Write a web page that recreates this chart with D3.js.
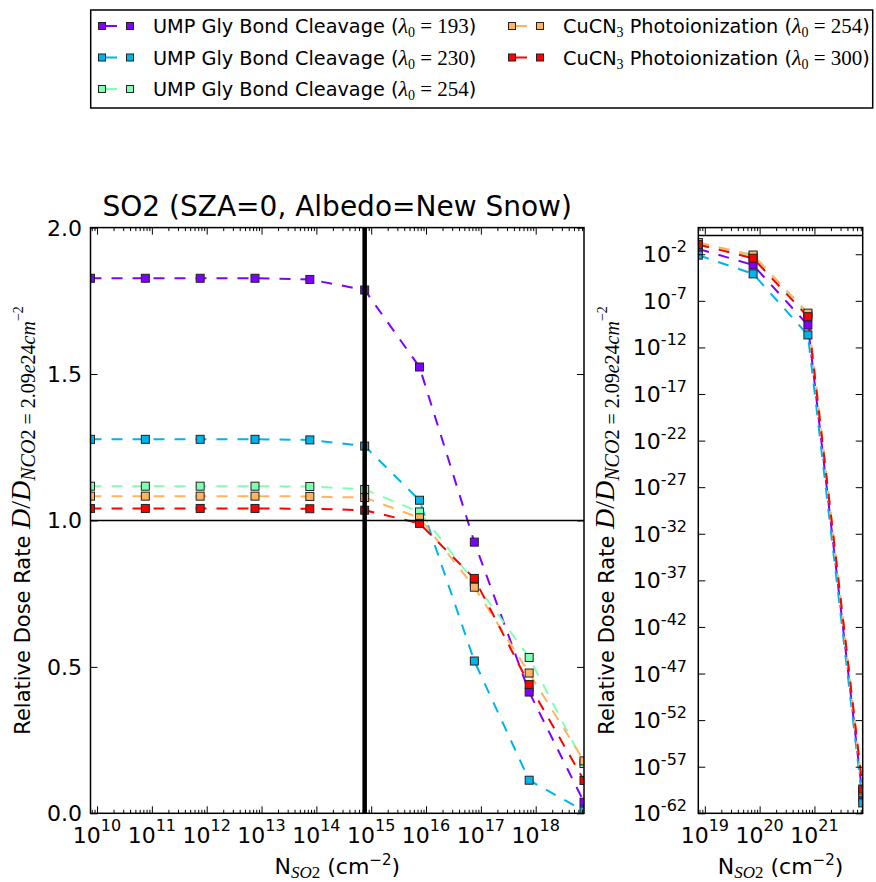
<!DOCTYPE html>
<html>
<head>
<meta charset="utf-8">
<title>SO2 relative dose rate</title>
<script src="https://d3js.org/d3.v7.min.js"></script>
<style>
  body { margin: 0; background: #fff; }
  text { font-family: "DejaVu Sans", sans-serif; fill: #000; white-space: pre; }
  .math { font-family: "Liberation Serif", "DejaVu Serif", serif; }
</style>
</head>
<body>
<div id="chart"></div>
<script>
// column densities of SO2 (cm^-2)
var nLeft = [7.6e9, 7.6e10, 7.6e11, 7.6e12, 7.6e13, 7.6e14, 7.6e15, 7.6e16, 7.6e17, 7.6e18]
var nRight = [7.6e18, 7.6e19, 7.6e20, 7.6e21]

// legend: kind of process and lambda_0
var kinds = ["UMP", "UMP", "UMP", "CuCN3", "CuCN3"]
var lambdas = ["193", "230", "254", "254", "300"]
var colors = ["#8000ff", "#00b4eb", "#80ffb4", "#ffb462", "#ff0000"]

// relative dose rates, left panel (linear)
var ump193 = [1.827, 1.827, 1.827, 1.827, 1.823, 1.787, 1.524, 0.926, 0.414, 0.038]
var ump230 = [1.277, 1.277, 1.277, 1.277, 1.275, 1.254, 1.069, 0.520, 0.113, 0.008]
var ump254 = [1.117, 1.117, 1.117, 1.117, 1.116, 1.106, 1.029, 0.790, 0.532, 0.170]
var cucn254 = [1.083, 1.083, 1.083, 1.083, 1.082, 1.078, 1.009, 0.772, 0.479, 0.179]
var cucn300 = [1.041, 1.041, 1.041, 1.041, 1.040, 1.035, 0.990, 0.802, 0.440, 0.112]

// relative dose rates, right panel (log)
var ump193Deep = [0.038, 7e-4, 2.5e-10, 5e-61]
var ump230Deep = [0.008, 7.8e-5, 2.2e-11, 1.3e-61]
var ump254Deep = [0.170, 6e-3, 3e-9, 1.6e-60]
var cucn254Deep = [0.179, 8.3e-3, 4.8e-9, 2.5e-60]
var cucn300Deep = [0.112, 3.7e-3, 2e-9, 4e-60]

// tick labels
var leftYTicks = [0, 0.5, 1.0, 1.5, 2.0]
var leftXExps = [10, 11, 12, 13, 14, 15, 16, 17, 18]
var rightXExps = [19, 20, 21]
var rightYExps = [-62, -57, -52, -47, -42, -37, -32, -27, -22, -17, -12, -7, -2]

var lin = [ump193, ump230, ump254, cucn254, cucn300]
var deep = [ump193Deep, ump230Deep, ump254Deep, cucn254Deep, cucn300Deep]
var series = colors.map(function (c, i) {
    return {color: c, lin: lin[i], deep: deep[i]}
})

var W = 876, H = 882
var svg = d3.select("#chart").append("svg")
    .attr("width", W).attr("height", H)

var plotTop = 227.6, plotBottom = 813.3

// scales
var xL = d3.scaleLog().domain([7.6e9, 7.6e18]).range([90.5, 584])
var yL = d3.scaleLinear().domain([0, 2]).range([plotBottom, plotTop])
var xR = d3.scaleLog().domain([7.6e18, 7.6e21]).range([698.3, 862.7])
var yR = d3.scaleLog().domain([1e-62, Math.pow(10, 0.86)]).range([plotBottom, plotTop])

var dash = "11,10"

function supText(sel, base, exp, size, expSize, rise) {
    sel.append("tspan").style("font-size", size + "px").text(base)
    sel.append("tspan").attr("dy", -rise).style("font-size", expSize + "px").text(exp)
}

// math-like runs: letters italic serif, rest upright serif
function mathRun(sel, str, size, dy) {
    var parts = str.match(/[A-Za-z]+|[^A-Za-z]+/g)
    parts.forEach(function (p, i) {
        var t = sel.append("tspan").attr("class", "math")
            .style("font-size", size + "px")
            .style("font-style", /[A-Za-z]/.test(p) ? "italic" : "normal")
            .text(p)
        if (i == 0 && dy) t.attr("dy", dy)
    })
}

function panel(id, x, y, vals, key) {
    var x0 = x.range()[0], x1 = x.range()[1]
    var g = svg.append("g")
    svg.append("clipPath").attr("id", id)
        .append("rect").attr("x", x0).attr("y", plotTop).attr("width", x1 - x0).attr("height", plotBottom - plotTop)

    var plot = g.append("g").attr("clip-path", "url(#" + id + ")")
    var line = d3.line()
        .x(function (d) { return x(d[0]) })
        .y(function (d) { return y(d[1]) })

    series.forEach(function (s) {
        var pts = vals.map(function (v, i) { return [v, s[key][i]] })
        plot.append("path")
            .attr("d", line(pts))
            .attr("fill", "none")
            .attr("stroke", s.color)
            .attr("stroke-width", 2)
            .attr("stroke-dasharray", dash)
    })
    series.forEach(function (s) {
        var pts = vals.map(function (v, i) { return [v, s[key][i]] })
        plot.selectAll(null).data(pts).enter().append("rect")
            .attr("x", function (d) { return x(d[0]) - 4 })
            .attr("y", function (d) { return y(d[1]) - 4 })
            .attr("width", 8).attr("height", 8)
            .attr("fill", s.color)
            .attr("stroke", "#222").attr("stroke-width", 1)
    })
    return {g: g, plot: plot, x0: x0, x1: x1}
}

function ticksX(p, x, majors) {
    var minors = x.ticks().filter(function (t) {
        var e = Math.log10(t); return Math.abs(e - Math.round(e)) > 1e-6
    })
    p.g.append("g").attr("transform", "translate(0," + plotBottom + ")")
        .call(d3.axisBottom(x).tickValues(majors).tickSize(-7).tickFormat(""))
    p.g.append("g").attr("transform", "translate(0," + plotBottom + ")")
        .call(d3.axisBottom(x).tickValues(minors).tickSize(-3.5).tickFormat(""))
    p.g.append("g").attr("transform", "translate(0," + plotTop + ")")
        .call(d3.axisTop(x).tickValues(majors).tickSize(-7).tickFormat(""))
    p.g.append("g").attr("transform", "translate(0," + plotTop + ")")
        .call(d3.axisTop(x).tickValues(minors).tickSize(-3.5).tickFormat(""))
}

function ticksY(p, y, vals) {
    p.g.append("g").attr("transform", "translate(" + p.x0 + ",0)")
        .call(d3.axisLeft(y).tickValues(vals).tickSize(-7).tickFormat(""))
    p.g.append("g").attr("transform", "translate(" + p.x1 + ",0)")
        .call(d3.axisRight(y).tickValues(vals).tickSize(-7).tickFormat(""))
}

function frame(p) {
    p.g.selectAll(".domain").remove()
    p.g.selectAll(".tick line").attr("stroke", "#000").attr("stroke-width", 1)
    p.g.append("rect").attr("x", p.x0).attr("y", plotTop)
        .attr("width", p.x1 - p.x0).attr("height", plotBottom - plotTop)
        .attr("fill", "none").attr("stroke", "#000").attr("stroke-width", 1.5)
}

// ---- left panel
var pL = panel("clipL", xL, yL, nLeft, "lin")
pL.plot.append("line")
    .attr("x1", xL(nLeft[5])).attr("x2", xL(nLeft[5]))
    .attr("y1", plotTop).attr("y2", plotBottom)
    .attr("stroke", "#000").attr("stroke-width", 4.5)
pL.plot.append("line")
    .attr("x1", pL.x0).attr("x2", pL.x1)
    .attr("y1", yL(1)).attr("y2", yL(1))
    .attr("stroke", "#000").attr("stroke-width", 1.5)
ticksX(pL, xL, leftXExps.map(function (e) { return Math.pow(10, e) }))
ticksY(pL, yL, leftYTicks)
frame(pL)

leftYTicks.forEach(function (v) {
    svg.append("text").attr("x", 82).attr("y", yL(v) + 8)
        .attr("text-anchor", "end").style("font-size", "22px")
        .text(d3.format(".1f")(v))
})
leftXExps.forEach(function (e) {
    var t = svg.append("text").attr("x", xL(Math.pow(10, e))).attr("y", 843)
        .attr("text-anchor", "middle")
    supText(t, "10", String(e), 22, 16, 12)
})

// ---- right panel
var pR = panel("clipR", xR, yR, nRight, "deep")
pR.plot.append("line")
    .attr("x1", pR.x0).attr("x2", pR.x1)
    .attr("y1", yR(1)).attr("y2", yR(1))
    .attr("stroke", "#000").attr("stroke-width", 1.5)
ticksX(pR, xR, rightXExps.map(function (e) { return Math.pow(10, e) }))
ticksY(pR, yR, rightYExps.map(function (e) { return Math.pow(10, e) }))
frame(pR)

rightYExps.forEach(function (e) {
    var t = svg.append("text").attr("x", 687).attr("y", yR(Math.pow(10, e)) + 8)
        .attr("text-anchor", "end")
    supText(t, "10", String(e), 22, 16, 10)
})
rightXExps.forEach(function (e) {
    var t = svg.append("text").attr("x", xR(Math.pow(10, e))).attr("y", 843)
        .attr("text-anchor", "middle")
    supText(t, "10", String(e), 22, 16, 12)
})

// ---- titles and axis labels
svg.append("text").attr("x", (xL.range()[0] + xL.range()[1]) / 2).attr("y", 216)
    .attr("text-anchor", "middle").style("font-size", "28px")
    .text("SO2 (SZA=0, Albedo=New Snow)")

function xLabel(cx) {
    var t = svg.append("text").attr("x", cx).attr("y", 874).attr("text-anchor", "middle")
    t.append("tspan").style("font-size", "22px").text("N")
    mathRun(t, "SO2", 17, 4)
    t.append("tspan").attr("dy", -4).style("font-size", "22px").text(" (cm")
    t.append("tspan").attr("dy", -9).style("font-size", "15px").text("\u22122")
    t.append("tspan").attr("dy", 9).style("font-size", "22px").text(")")
}
xLabel((xL.range()[0] + xL.range()[1]) / 2)
xLabel((xR.range()[0] + xR.range()[1]) / 2)

function yLabel(bx) {
    var t = svg.append("text")
        .attr("transform", "translate(" + bx + "," + (plotTop + plotBottom) / 2 + ") rotate(-90)")
        .attr("text-anchor", "middle")
    t.append("tspan").style("font-size", "21px").text("Relative Dose Rate ")
    mathRun(t, "D/D", 28, 0)
    mathRun(t, "NCO2 = 2.09e24cm", 20, 5)
    t.append("tspan").attr("class", "math").attr("dy", -12).style("font-size", "14px").text("\u22122")
}
yLabel(30)
yLabel(614)

// ---- legend
var lg = svg.append("g")
lg.append("rect").attr("x", 90.7).attr("y", 10).attr("width", 782).attr("height", 98)
    .attr("fill", "#fff").attr("stroke", "#000").attr("stroke-width", 1.5)

var legPos = [[102, 26], [102, 57.5], [102, 89], [512, 26], [512, 57.5]]
series.forEach(function (s, i) {
    var px = legPos[i][0], py = legPos[i][1]
    lg.append("line").attr("x1", px).attr("x2", px + 15).attr("y1", py).attr("y2", py)
        .attr("stroke", s.color).attr("stroke-width", 2)
    ;[px, px + 28].forEach(function (mx) {
        lg.append("rect").attr("x", mx - 3.5).attr("y", py - 3.5).attr("width", 7).attr("height", 7)
            .attr("fill", s.color).attr("stroke", "#222").attr("stroke-width", 1)
    })
    var t = lg.append("text").attr("x", px + 51).attr("y", py + 7).style("font-size", "19.3px")
    if (kinds[i] == "UMP") {
        t.append("tspan").text("UMP Gly Bond Cleavage (")
    } else {
        t.append("tspan").text("CuCN")
        t.append("tspan").attr("class", "math").attr("dy", 4).style("font-size", "14px").text("3")
        t.append("tspan").attr("dy", -4).text(" Photoionization (")
    }
    t.append("tspan").attr("class", "math").style("font-size", "22px").style("font-style", "italic").text("\u03bb")
    t.append("tspan").attr("class", "math").attr("dy", 4).style("font-size", "14px").text("0")
    t.append("tspan").attr("class", "math").attr("dy", -4).style("font-size", "21px").text(" = " + lambdas[i])
    t.append("tspan").text(")")
})
</script>
</body>
</html>
